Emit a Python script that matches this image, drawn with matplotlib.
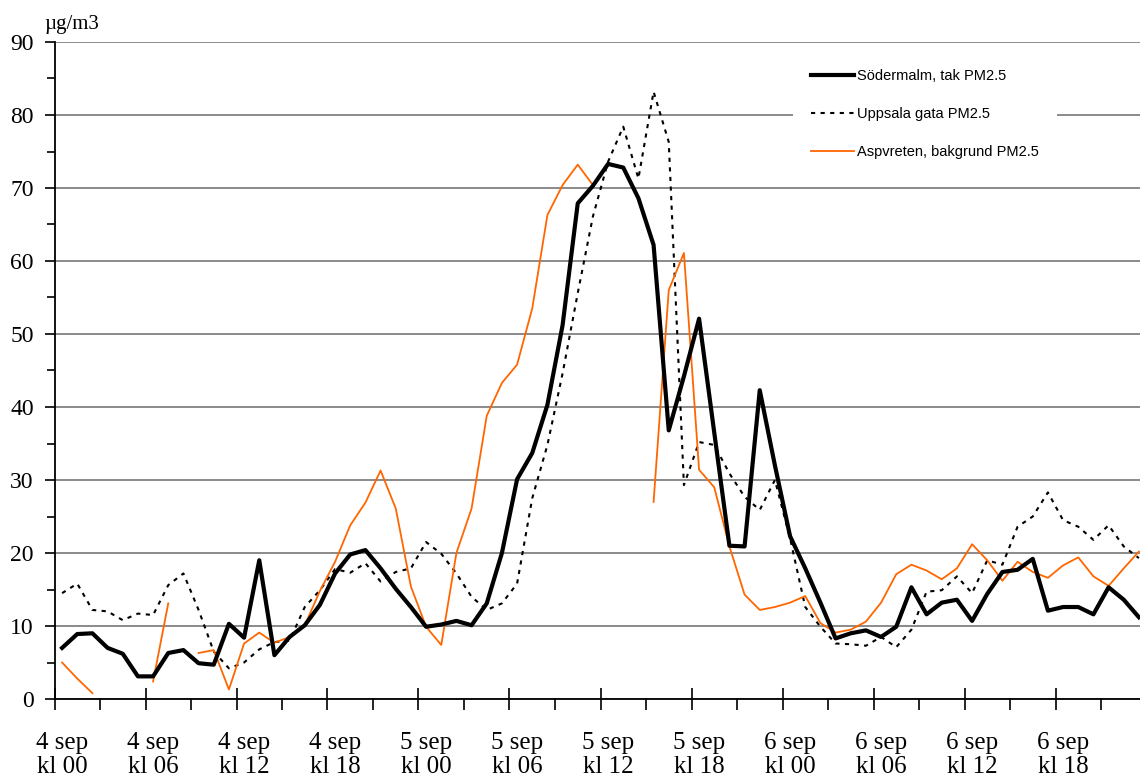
import numpy as np
import matplotlib.pyplot as plt

nan = np.nan

# hourly values, 4 sep kl 00 .. 6 sep kl 23
hours = np.arange(72)

sodermalm = [7.0, 8.9, 9.0, 7.0, 6.2, 3.1, 3.1, 6.3, 6.7, 4.9,
             4.7, 10.3, 8.4, 19.0, 6.0, 8.5, 10.1, 12.9, 17.2, 19.8,
             20.4, 17.9, 15.1, 12.6, 9.9, 10.2, 10.7, 10.1, 13.1, 20.0,
             30.1, 33.7, 40.3, 51.2, 67.9, 70.3, 73.3, 72.8, 68.6, 62.2,
             36.8, 44.2, 52.1, 36.5, 21.0, 20.9, 42.3, 32.0, 22.3, 17.9,
             13.2, 8.3, 9.0, 9.4, 8.5, 9.9, 15.3, 11.6, 13.2, 13.6,
             10.7, 14.4, 17.4, 17.7, 19.2, 12.1, 12.6, 12.6, 11.6, 15.3,
             13.6, 11.2]

uppsala = [14.5, 15.8, 12.2, 12.0, 10.8, 11.7, 11.5, 15.6, 17.2, 12.2,
           6.5, 4.2, 5.0, 6.8, 7.8, 8.0, 12.6, 14.9, 17.8, 17.3,
           18.6, 16.1, 17.4, 17.9, 21.5, 19.9, 17.2, 14.0, 12.2, 13.1,
           15.8, 27.5, 34.8, 44.6, 55.6, 66.1, 73.6, 78.4, 71.3, 83.2,
           76.3, 29.3, 35.2, 34.8, 30.9, 27.7, 25.9, 30.0, 22.0, 12.6,
           9.9, 7.6, 7.5, 7.3, 8.5, 7.1, 9.5, 14.7, 14.9, 16.8,
           14.5, 19.0, 18.4, 23.6, 25.0, 28.3, 24.5, 23.6, 21.8, 23.8,
           20.9, 19.3]

aspvreten = [5.0, 2.8, 0.8, nan, nan, nan, 2.4, 13.1, nan, 6.3,
             6.7, 1.3, 7.6, 9.1, 7.7, 8.5, 10.1, 14.8, 18.8, 23.8,
             26.9, 31.3, 26.1, 15.4, 9.9, 7.4, 20.0, 26.1, 38.8, 43.3,
             45.8, 53.5, 66.3, 70.4, 73.2, 70.4, nan, nan, nan, 27.0,
             56.0, 61.1, 31.4, 29.0, 20.9, 14.3, 12.2, 12.6, 13.2, 14.1,
             10.4, 9.1, 9.5, 10.6, 13.2, 17.1, 18.4, 17.6, 16.4, 17.9,
             21.2, 19.0, 16.2, 18.8, 17.4, 16.6, 18.3, 19.4, 16.8, 15.5,
             17.9, 20.2]

label_pos = np.arange(0, 72, 6)
labels = ["4 sep\nkl 00", "4 sep\nkl 06", "4 sep\nkl 12", "4 sep\nkl 18",
          "5 sep\nkl 00", "5 sep\nkl 06", "5 sep\nkl 12", "5 sep\nkl 18",
          "6 sep\nkl 00", "6 sep\nkl 06", "6 sep\nkl 12", "6 sep\nkl 18"]

serif = "Liberation Serif"
sans = "Liberation Sans"

fig = plt.figure(figsize=(11.4, 7.78), dpi=100)
ax = fig.add_axes([54.5 / 1140, 79 / 778, 1092 / 1140, 657 / 778])

ax.plot(hours, sodermalm, color="black", lw=3, label="Södermalm, tak PM2.5", zorder=3)
ax.plot(hours, uppsala, color="black", lw=1.5, linestyle=(0, (2, 2.6)),
        label="Uppsala gata PM2.5", zorder=2)
ax.plot(hours, aspvreten, color="#FF6600", lw=1.3, label="Aspvreten, bakgrund PM2.5", zorder=2)

ax.set_xlim(-0.5, 71.5)
ax.set_ylim(0, 90)

for s in ["top", "right"]:
    ax.spines[s].set_visible(False)
ax.spines["left"].set_linewidth(1.3)
ax.spines["bottom"].set_linewidth(1.3)

ax.set_yticks(range(0, 91, 10))
ax.set_yticks(range(5, 90, 10), minor=True)
ax.yaxis.grid(True, which="major", color="#777777", lw=1.2)
ax.set_axisbelow(True)
ax.tick_params(axis="y", which="major", direction="out", length=7, width=1.2,
               labelsize=17, pad=8)
ax.tick_params(axis="y", which="minor", direction="out", length=6, width=1.2)
for t in ax.get_yticklabels():
    t.set_fontfamily(serif)

ax.set_xticks(np.arange(-0.5, 72, 6))
ax.set_xticks(np.arange(2.5, 72, 6), minor=True)
ax.tick_params(axis="x", which="major", direction="inout", length=16, width=1.2,
               labelbottom=False)
ax.tick_params(axis="x", which="minor", direction="out", length=8, width=1.2)

for p, lab in zip(label_pos, labels):
    ax.text(p, -0.05, lab, transform=ax.get_xaxis_transform(), ha="center", va="top",
            fontsize=18, family=serif, linespacing=1.12)

fig.text(44 / 1140, 1 - 25 / 778, "µg/m3", ha="left", va="center", fontsize=15, family=serif)

leg = ax.legend(loc="upper left", bbox_to_anchor=(793 / 1140, 1 - 52 / 778),
                bbox_transform=fig.transFigure, borderaxespad=0, borderpad=1.2,
                frameon=True, fancybox=False, edgecolor="none", facecolor="white",
                framealpha=1, handlelength=3.0, handletextpad=0.2, labelspacing=1.62,
                prop={"family": sans, "size": 10.5})

fig.savefig("out.png", dpi=100)
